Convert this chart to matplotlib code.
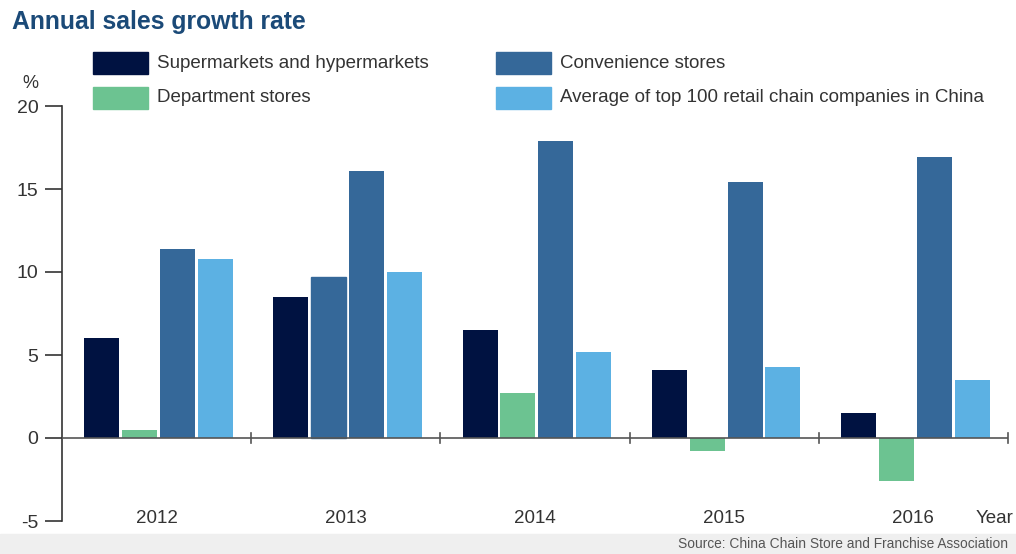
import matplotlib.pyplot as plt
from matplotlib.patches import Rectangle
from matplotlib.transforms import blended_transform_factory

years = ['2012', '2013', '2014', '2015', '2016']
series = ['Supermarkets and hypermarkets', 'Department stores',
          'Convenience stores', 'Average of top 100 retail chain companies in China']
supermarkets = [6.0, 8.5, 6.5, 4.1, 1.5]
department = [0.5, 9.7, 2.7, -0.8, -2.6]
convenience = [11.4, 16.1, 17.9, 15.4, 16.9]
top100 = [10.8, 10.0, 5.2, 4.3, 3.5]

colors = ['#001241', '#6cc391', '#356899', '#5cb1e3']

plt.rcParams['font.family'] = ['Liberation Sans', 'DejaVu Sans']
text_color = '#333333'

fig = plt.figure(figsize=(10.16, 5.54), dpi=100)
ax = fig.add_axes([62 / 1016, 33 / 554, 946 / 1016, 415 / 554])

values = [supermarkets, department, convenience, top100]
step = 0.2
width = 0.185
for i, vals in enumerate(values):
    xs = [j + (i - 1.5) * step + 0.01 for j in range(len(years))]
    bars = ax.bar(xs, vals, width=width, color=colors[i], zorder=2)
    if i == 1:
        # 2013 department bar is printed in the convenience colour
        bars[1].set_color(colors[2])

ax.set_xlim(-0.5, 4.5)
ax.set_ylim(-5, 20)
ax.set_yticks([-5, 0, 5, 10, 15, 20])
ax.set_yticklabels(['-5', '0', '5', '10', '15', '20'], fontsize=14, color=text_color)
ax.tick_params(axis='y', length=12, width=1.2, color=text_color, pad=5)

for s in ['top', 'right', 'bottom']:
    ax.spines[s].set_visible(False)
ax.spines['left'].set_color(text_color)
ax.spines['left'].set_linewidth(1.2)

# zero line with small dividers between the years
ax.axhline(0, color='#555555', lw=1.2, zorder=3)
ax.set_xticks([])
for b in [0.5, 1.5, 2.5, 3.5, 4.5]:
    ax.plot([b, b], [-0.3, 0.3], color='#555555', lw=1.2, zorder=3, clip_on=False)

tr = blended_transform_factory(ax.transData, ax.transAxes)
for j, y in enumerate(years):
    ax.text(j, 0.006, y, transform=tr, ha='center', va='center',
            fontsize=13.5, color=text_color)
ax.text(4.43, 0.006, 'Year', transform=tr, ha='center', va='center',
        fontsize=13.5, color=text_color)

fig.text(30 / 1016, 1 - 84 / 554, '%', ha='center', va='center',
         fontsize=13, color=text_color)

fig.text(12 / 1016, 1 - 22 / 554, 'Annual sales growth rate', ha='left', va='center',
         fontsize=17.8, fontweight='bold', color='#1b4a78')

# legend
legend_pos = [(93, 52), (93, 87), (496, 52), (496, 87)]
for k, (lx, ly) in enumerate(legend_pos):
    fig.patches.append(Rectangle((lx / 1016, 1 - (ly + 22) / 554), 55 / 1016, 22 / 554,
                                 transform=fig.transFigure, color=colors[k]))
    fig.text((lx + 64) / 1016, 1 - (ly + 11) / 554, series[k], ha='left', va='center',
             fontsize=13.5, color=text_color)

# source footer
fig.patches.append(Rectangle((0, 0), 1, 20 / 554, transform=fig.transFigure,
                             color='#efefef', zorder=0))
fig.text(1008 / 1016, 10 / 554, 'Source: China Chain Store and Franchise Association',
         ha='right', va='center', fontsize=9.9, color='#555555')

fig.savefig('out.png', dpi=100)
